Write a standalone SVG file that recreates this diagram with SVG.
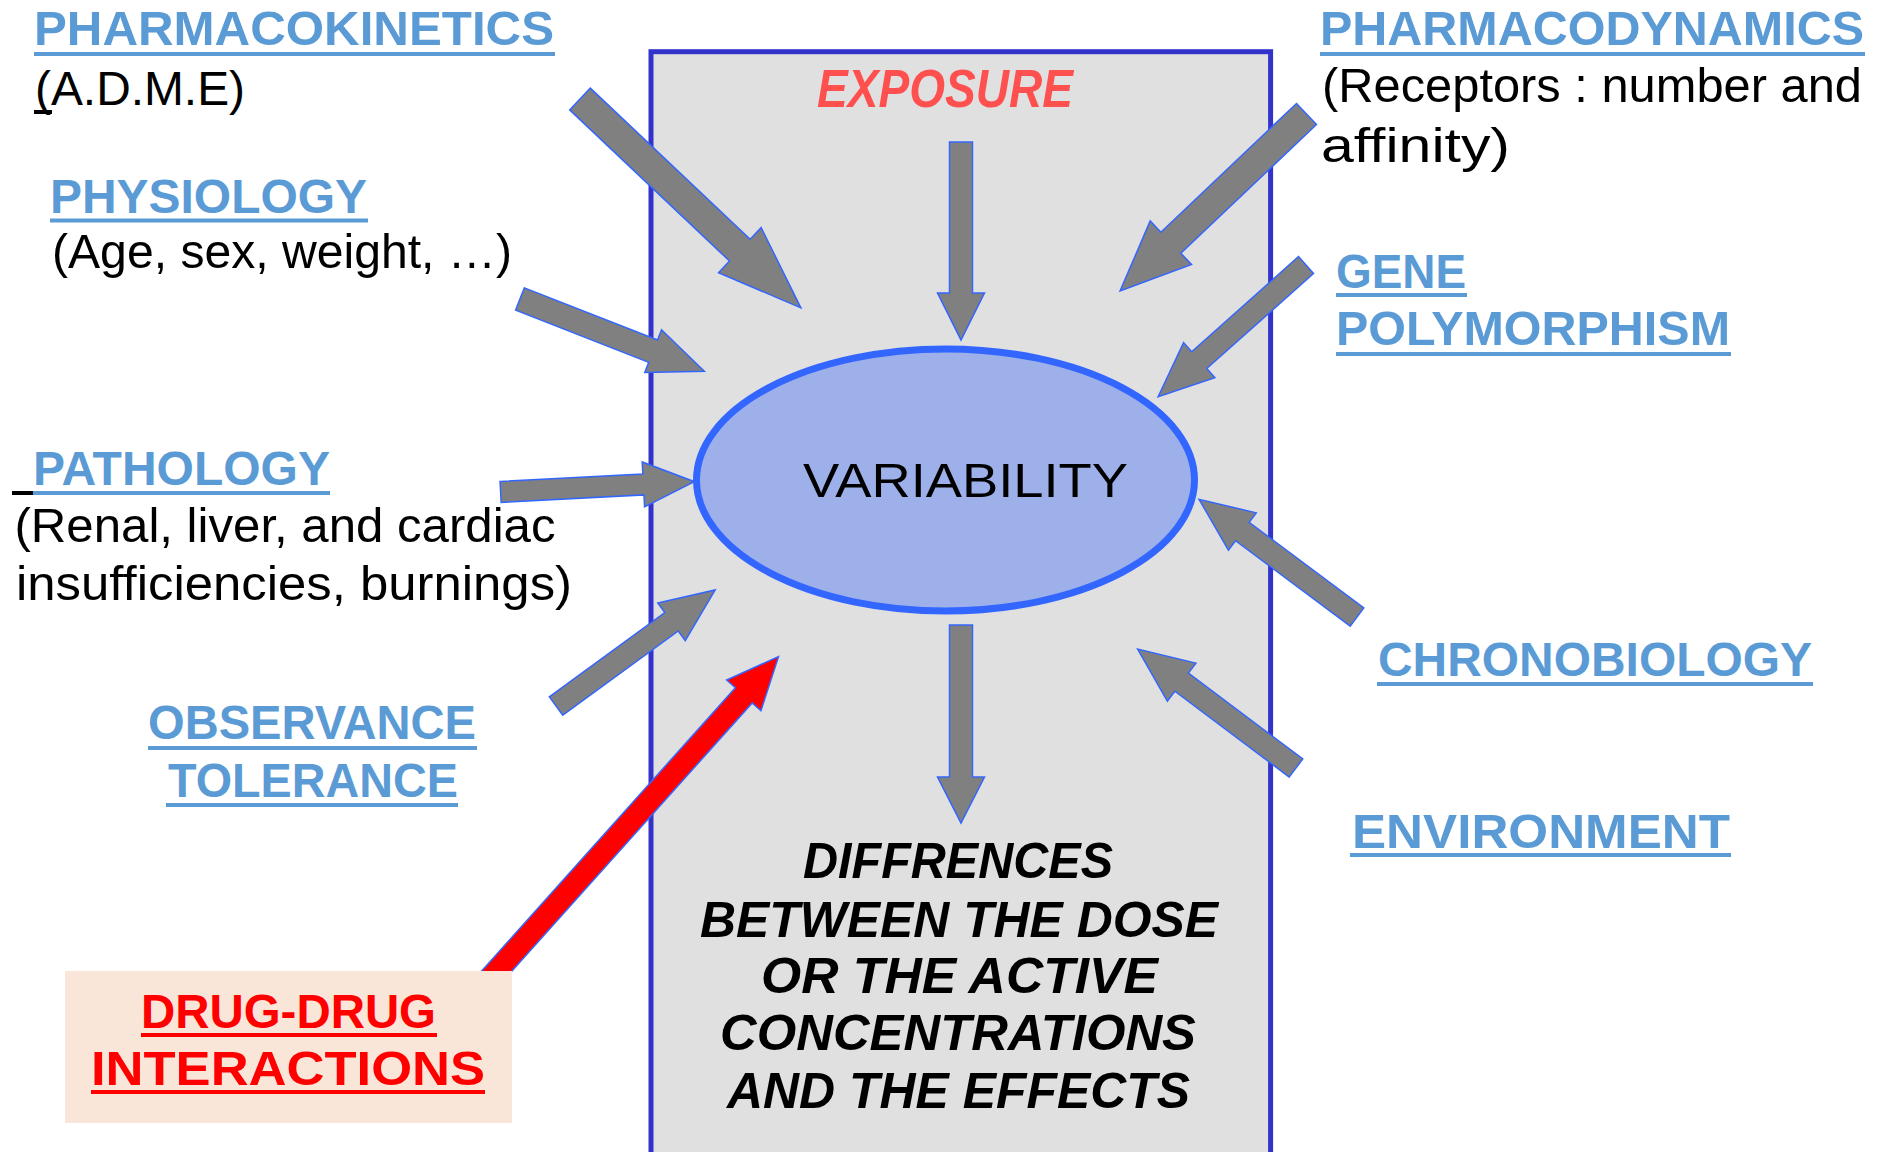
<svg xmlns="http://www.w3.org/2000/svg" width="1877" height="1152" viewBox="0 0 1877 1152">
<style>
.h{font-family:"Liberation Sans",Arial,sans-serif;font-weight:bold;font-size:48px;fill:#5B9BD5}
.t{font-family:"Liberation Sans",Arial,sans-serif;font-size:48px;fill:#000}
.u{fill:#5B9BD5}
.ur{fill:#FF0000}
.k{fill:#000}
.arr{fill:#808080;stroke:#3366FF;stroke-width:1.5;stroke-linejoin:miter}
.red{fill:#FF0000;stroke:#3366FF;stroke-width:1.5}
.bi{font-family:"Liberation Sans",Arial,sans-serif;font-weight:bold;font-style:italic;font-size:50px;fill:#000}
.rd{font-family:"Liberation Sans",Arial,sans-serif;font-weight:bold;font-size:48px;fill:#FF0000}
</style>
<rect width="1877" height="1152" fill="#FFFFFF"/>

<g id="exposure-box">
<rect x="651" y="51.7" width="619.6" height="1200" fill="#E0E0E0" stroke="#3333CC" stroke-width="5"/>
<text x="817" y="107" textLength="256" lengthAdjust="spacingAndGlyphs" style="font-family:'Liberation Sans',Arial,sans-serif;font-weight:bold;font-style:italic;font-size:53px;fill:#FF5050">EXPOSURE</text>
</g>

<g id="variability">
<ellipse cx="945.5" cy="480" rx="249" ry="131" fill="#9DB0EA" stroke="#3366FF" stroke-width="7"/>
<text class="t" x="803" y="497" textLength="325" lengthAdjust="spacingAndGlyphs">VARIABILITY</text>
</g>

<g id="differences">
<text class="bi" x="803" y="878" textLength="310" lengthAdjust="spacingAndGlyphs">DIFFRENCES</text>
<text class="bi" x="700" y="937" textLength="518" lengthAdjust="spacingAndGlyphs">BETWEEN THE DOSE</text>
<text class="bi" x="761" y="993" textLength="397" lengthAdjust="spacingAndGlyphs">OR THE ACTIVE</text>
<text class="bi" x="720" y="1050" textLength="476" lengthAdjust="spacingAndGlyphs">CONCENTRATIONS</text>
<text class="bi" x="727" y="1108" textLength="463" lengthAdjust="spacingAndGlyphs">AND THE EFFECTS</text>
</g>

<g id="connectors">
<polygon class="arr" transform="translate(580,99) rotate(43.4)" points="0,-15 220,-15 220,-31 304,0 220,31 220,15 0,15"/>
<polygon class="arr" transform="translate(961,142) rotate(90)" points="0,-11.5 151,-11.5 151,-23.5 198,0 151,23.5 151,11.5 0,11.5"/>
<polygon class="arr" transform="translate(1306.5,114) rotate(136.5)" points="0,-14.5 187,-14.5 187,-30 257,0 187,30 187,14.5 0,14.5"/>
<polygon class="arr" transform="translate(1306,265) rotate(138.3)" points="0,-11.3 143,-11.3 143,-23.5 198,0 143,23.5 143,11.3 0,11.3"/>
<polygon class="arr" transform="translate(520,299) rotate(21.4)" points="0,-12 143,-12 143,-23 198,0 143,23 143,12 0,12"/>
<polygon class="arr" transform="translate(500.6,492) rotate(-3.04)" points="0,-10.5 143,-10.5 143,-22.5 194,0 143,22.5 143,10.5 0,10.5"/>
<polygon class="arr" transform="translate(556,706) rotate(-36.1)" points="0,-11.4 143,-11.4 143,-23.3 197,0 143,23.3 143,11.4 0,11.4"/>
<polygon class="red" transform="translate(470.2,1000.7) rotate(-48.14)" points="0,-11.3 410,-11.3 410,-23 462,0 410,23 410,11.3 0,11.3"/>
<polygon class="arr" transform="translate(1357,617) rotate(-143.3)" points="0,-11.4 143,-11.4 143,-23.3 197,0 143,23.3 143,11.4 0,11.4"/>
<polygon class="arr" transform="translate(1296,768) rotate(-143.1)" points="0,-11.3 143,-11.3 143,-23.8 198,0 143,23.8 143,11.3 0,11.3"/>
<polygon class="arr" transform="translate(961,625) rotate(90)" points="0,-11.5 152,-11.5 152,-23.5 198,0 152,23.5 152,11.5 0,11.5"/>
</g>

<g id="drug-drug">
<rect x="65" y="971" width="447" height="152" fill="#FAE5D9"/>
<text class="rd" x="141" y="1028" textLength="295" lengthAdjust="spacingAndGlyphs">DRUG-DRUG</text>
<rect class="ur" x="141" y="1033" width="296" height="4"/>
<text class="rd" x="91" y="1085" textLength="394" lengthAdjust="spacingAndGlyphs">INTERACTIONS</text>
<rect class="ur" x="91" y="1090" width="394" height="4"/>
</g>

<g id="pharmacokinetics">
<text class="h" x="34" y="45" textLength="520" lengthAdjust="spacingAndGlyphs">PHARMACOKINETICS</text>
<rect class="u" x="34" y="52" width="521" height="4"/>
<text class="t" x="35" y="105" textLength="210" lengthAdjust="spacingAndGlyphs">(A.D.M.E)</text>
<rect class="k" x="34" y="110" width="18" height="4"/>
</g>

<g id="physiology">
<text class="h" x="50" y="213" textLength="317" lengthAdjust="spacingAndGlyphs">PHYSIOLOGY</text>
<rect class="u" x="50" y="218.5" width="318" height="4"/>
<text class="t" x="52" y="268" textLength="460" lengthAdjust="spacingAndGlyphs">(Age, sex, weight, …)</text>
</g>

<g id="pathology">
<rect class="k" x="12" y="491" width="21" height="4"/>
<text class="h" x="33" y="485" textLength="297" lengthAdjust="spacingAndGlyphs">PATHOLOGY</text>
<rect class="u" x="33" y="491" width="297" height="4"/>
<text class="t" x="14.5" y="542" textLength="541" lengthAdjust="spacingAndGlyphs">(Renal, liver, and cardiac</text>
<text class="t" x="16" y="600" textLength="556" lengthAdjust="spacingAndGlyphs">insufficiencies, burnings)</text>
</g>

<g id="observance">
<text class="h" x="148" y="739" textLength="328" lengthAdjust="spacingAndGlyphs">OBSERVANCE</text>
<rect class="u" x="148" y="746" width="329" height="4"/>
<text class="h" x="168" y="797" textLength="290" lengthAdjust="spacingAndGlyphs">TOLERANCE</text>
<rect class="u" x="166" y="803" width="292" height="4"/>
</g>

<g id="pharmacodynamics">
<text class="h" x="1320" y="45" textLength="544" lengthAdjust="spacingAndGlyphs">PHARMACODYNAMICS</text>
<rect class="u" x="1320" y="52" width="545" height="4"/>
<text class="t" x="1322" y="102" textLength="540" lengthAdjust="spacingAndGlyphs">(Receptors : number and</text>
<text class="t" x="1321" y="162" textLength="189" lengthAdjust="spacingAndGlyphs">affinity)</text>
</g>

<g id="gene-polymorphism">
<text class="h" x="1336" y="288" textLength="130" lengthAdjust="spacingAndGlyphs">GENE</text>
<rect class="u" x="1336" y="293" width="131" height="4"/>
<text class="h" x="1336" y="345" textLength="394" lengthAdjust="spacingAndGlyphs">POLYMORPHISM</text>
<rect class="u" x="1336" y="352" width="395" height="4"/>
</g>

<g id="chronobiology">
<text class="h" x="1378" y="676" textLength="434" lengthAdjust="spacingAndGlyphs">CHRONOBIOLOGY</text>
<rect class="u" x="1377" y="682" width="436" height="4"/>
</g>

<g id="environment">
<text class="h" x="1352" y="848" textLength="378" lengthAdjust="spacingAndGlyphs">ENVIRONMENT</text>
<rect class="u" x="1350" y="853" width="381" height="4"/>
</g>
</svg>
